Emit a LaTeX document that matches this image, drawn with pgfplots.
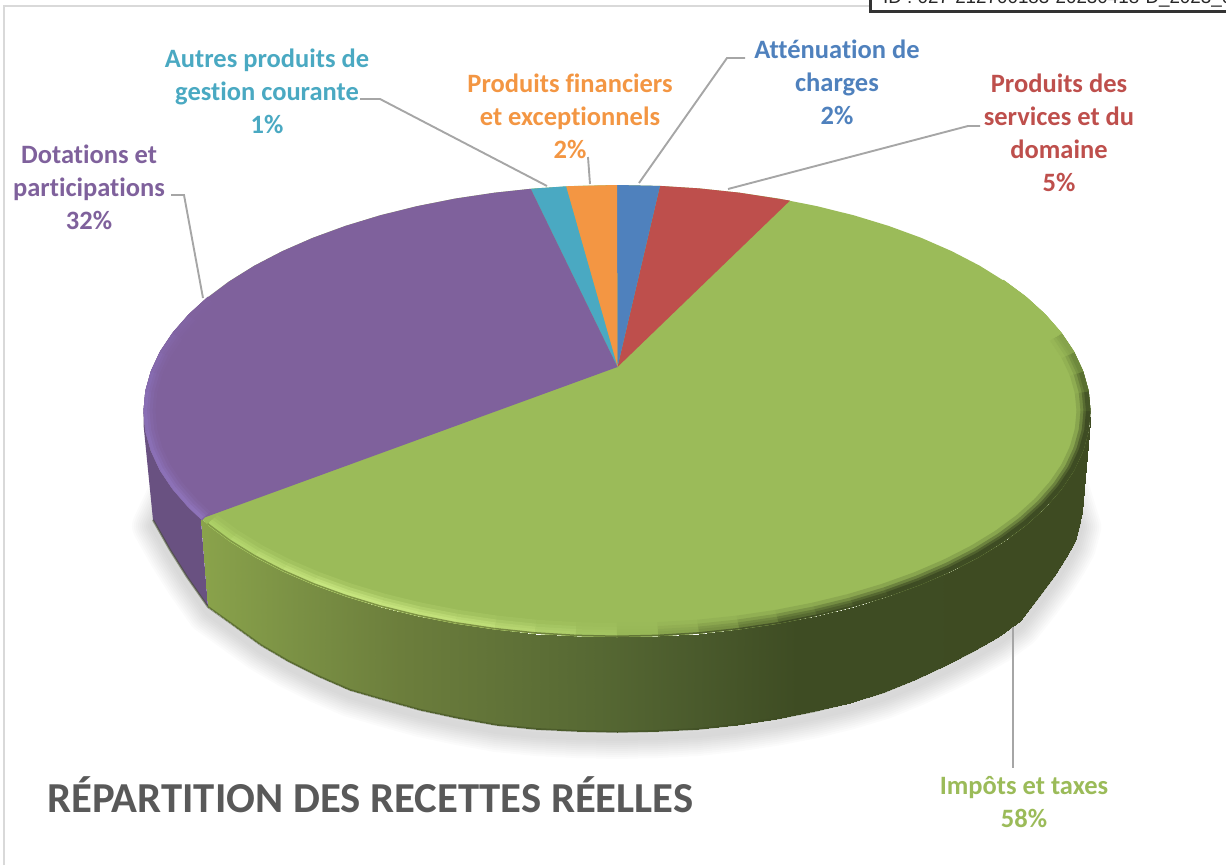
\documentclass[border=0pt]{standalone}
\usepackage{fontspec}
\setmainfont{Carlito}[Ligatures=NoCommon]
\newfontfamily\idfont{Liberation Sans}
\usepackage{pgfplots}
\usepackage{pgfplotstable}
\pgfplotsset{compat=1.18}

\definecolor{cblue}{HTML}{4F81BD}
\definecolor{cred}{HTML}{BE4F4C}
\definecolor{cgreen}{HTML}{9BBB59}
\definecolor{cpurple}{HTML}{7F619C}
\definecolor{cteal}{HTML}{4AA9C2}
\definecolor{corange}{HTML}{F39643}
\definecolor{lead}{HTML}{A6A6A6}
\definecolor{titlegray}{HTML}{595959}

% green rim stops
\definecolor{ga}{RGB}{170,205,100}
\definecolor{gb}{RGB}{200,230,128}
\definecolor{gc}{RGB}{192,222,120}
\definecolor{gd}{RGB}{172,205,105}
\definecolor{ge}{RGB}{155,187,89}
\definecolor{gi}{RGB}{125,150,70}
\definecolor{gf}{RGB}{90,110,50}
\definecolor{gg}{RGB}{62,76,35}
\definecolor{gh}{RGB}{100,125,55}
% purple rim stops
\definecolor{pa}{RGB}{135,108,178}
\definecolor{pb}{RGB}{142,115,185}

\newcommand{\gmap}[2]{\pgfplotsset{colormap={#1}{
  color(208pt)=(ga!#2!cgreen) color(232pt)=(gb!#2!cgreen) color(250pt)=(gc!#2!cgreen)
  color(262pt)=(gd!#2!cgreen) color(270pt)=(ge!#2!cgreen) color(280pt)=(gi!#2!cgreen)
  color(290pt)=(gf!#2!cgreen) color(305pt)=(gg!#2!cgreen) color(360pt)=(gg!#2!cgreen)
  color(370pt)=(gh!#2!cgreen) color(382pt)=(cgreen) color(395pt)=(cgreen)}}}
\newcommand{\pmap}[2]{\pgfplotsset{colormap={#1}{
  color(150pt)=(cpurple) color(175pt)=(pa!#2!cpurple) color(209pt)=(pb!#2!cpurple)}}}
\gmap{gA}{20}\gmap{gB}{50}\gmap{gC}{80}\gmap{gD}{100}
\pmap{pA}{15}\pmap{pB}{40}\pmap{pC}{70}\pmap{pD}{100}
\pgfplotsset{colormap={gO}{
  rgb255(208pt)=(130,155,70) rgb255(250pt)=(125,145,68) rgb255(270pt)=(100,120,55)
  rgb255(290pt)=(62,76,35) rgb255(360pt)=(62,76,35) rgb255(370pt)=(100,125,55)
  rgb255(382pt)=(155,187,89) rgb255(395pt)=(155,187,89)}}
\pgfplotsset{colormap={gside}{
  rgb255(200pt)=(138,163,75) rgb255(300pt)=(122,144,68) rgb255(400pt)=(108,126,60)
  rgb255(500pt)=(97,115,56) rgb255(600pt)=(86,104,51) rgb255(700pt)=(74,90,44)
  rgb255(800pt)=(62,76,35) rgb255(1095pt)=(62,75,34)}}

% top rim, full turn
\pgfplotstableread{
x y
1090.5 411
1088.7 391.3
1083.3 371.8
1074.4 352.5
1061.9 333.7
1046.1 315.5
1027.1 298
1004.9 281.4
979.7 265.7
951.8 251.2
921.4 237.9
888.6 225.9
853.8 215.3
817.1 206.2
778.9 198.6
739.5 192.7
699.2 188.4
658.3 185.9
617 185
575.7 185.9
534.8 188.4
494.5 192.7
455.1 198.6
416.9 206.2
380.2 215.3
345.4 225.9
312.6 237.9
282.2 251.2
254.3 265.7
229.1 281.4
206.9 298
187.9 315.5
172.1 333.7
159.6 352.5
150.7 371.8
145.3 391.3
143.5 411
145.3 430.7
150.7 450.2
159.6 469.5
172.1 488.3
187.9 506.5
206.9 524
229.1 540.6
254.3 556.3
282.2 570.8
312.6 584.1
345.4 596.1
380.2 606.7
416.9 615.8
455.1 623.4
494.5 629.3
534.8 633.6
575.7 636.1
617 637
658.3 636.1
699.2 633.6
739.5 629.3
778.9 623.4
817.1 615.8
853.8 606.7
888.6 596.1
921.4 584.1
951.8 570.8
979.7 556.3
1004.9 540.6
1027.1 524
1046.1 506.5
1061.9 488.3
1074.4 469.5
1083.3 450.2
1088.7 430.7
1090.5 411
}\rimtop

% rim arc of the green slice, t in degrees
\pgfplotstableread{
t x y
210 206.9 524
215 229.1 540.6
220 254.3 556.3
225 282.2 570.8
230 312.6 584.1
235 345.4 596.1
240 380.2 606.7
245 416.9 615.8
250 455.1 623.4
255 494.5 629.3
260 534.8 633.6
265 575.7 636.1
270 617 637
275 658.3 636.1
280 699.2 633.6
285 739.5 629.3
290 778.9 623.4
295 817.1 615.8
300 853.8 606.7
305 888.6 596.1
310 921.4 584.1
315 951.8 570.8
320 979.7 556.3
325 1004.9 540.6
330 1027.1 524
335 1046.1 506.5
340 1061.9 488.3
345 1074.4 469.5
350 1083.3 450.2
355 1088.7 430.7
360 1090.5 411
365 1088.7 391.3
370 1083.3 371.8
375 1074.4 352.5
380 1061.9 333.7
385 1046.1 315.5
390 1027.1 298
395 1004.9 281.4
}\rimgreen

% rim arc of the purple slice
\pgfplotstableread{
t x y
150 206.9 298
155 187.9 315.5
160 172.1 333.7
165 159.6 352.5
170 150.7 371.8
175 145.3 391.3
180 143.5 411
185 145.3 430.7
190 150.7 450.2
195 159.6 469.5
200 172.1 488.3
205 187.9 506.5
208.5 200.9 518.8
}\rimpurple

% green wall: top point, bottom point for each step
\pgfplotstableread{
x y
200.9 518.8
208 607
206.9 524
214.3 611
229.1 540.6
236 627
254.3 556.3
260.8 645
282.2 570.8
288.2 661
312.6 584.1
318.1 676
345.4 596.1
350.3 690
380.2 606.7
384.5 700
416.9 615.8
420.5 710
455.1 623.4
458 718
494.5 629.3
496.7 725
534.8 633.6
536.3 729
575.7 636.1
576.5 731
617 637
617 732
658.3 636.1
657.5 731
699.2 633.6
697.7 729
739.5 629.3
737.3 724.5
778.9 623.4
776 718.7
817.1 615.8
813.5 711.4
853.8 606.7
849.5 702.5
888.6 596.1
883.7 692.2
921.4 584.1
915.9 679
951.8 570.8
945.8 665
979.7 556.3
973.2 651
1004.9 540.6
997.7 637
1027.1 524
1019.7 621
1046.1 506.5
1038.4 597
1061.9 488.3
1054 576
1074.4 469.5
1066 557
1083.3 450.2
1074.9 541
1088.7 430.7
1080.2 521
1090.5 411
1082 512
}\wallgreen

% lower outline of the body
\pgfplotstableread{
x y
153 520
170 550
187 577
208 607
236 627
260.8 645
288.2 661
318.1 676
350.3 690
384.5 700
420.5 710
458 718
496.7 725
536.3 729
576.5 731
617 732
657.5 731
697.7 729
737.3 724.5
776 718.7
813.5 711.4
849.5 702.5
883.7 692.2
915.9 679
945.8 665
973.2 651
997.7 637
1019.7 621
1038.4 597
1054 576
1066 557
1074.9 541
1080.2 521
}\outline

% same line, its ends drawn in under the body, for the shadow
\pgfplotstableread{
x y
172 480
153 520
170 550
187 577
208 607
236 627
260.8 645
288.2 661
318.1 676
350.3 690
384.5 700
420.5 710
458 718
496.7 725
536.3 729
576.5 731
617 732
657.5 731
697.7 729
737.3 724.5
776 718.7
813.5 711.4
849.5 702.5
883.7 692.2
915.9 679
945.8 665
973.2 651
997.7 637
1019.7 621
1038.4 597
1054 576
1066 557
1074.9 541
1080.2 521
1060 455
}\shadowpath

\newcommand{\bevel}[3]{%
  \addplot[mesh, colormap name=#2, line width=#3pt, point meta=\thisrow{t},
    point meta rel=per plot]
    table[x expr={617+(\thisrow{x}-617)*(1-#3/2/473.5)},
          y expr={411+(\thisrow{y}-411)*(1-#3/2/226)}] {#1};}
\newcommand{\shadowline}[1]{%
  \addplot[draw=black, opacity=0.016, line width=#1pt, line cap=round, line join=round]
    table[y expr={\thisrow{y}+6}] {\shadowpath};}

\begin{document}
\begin{tikzpicture}
\begin{axis}[
  width=1226pt, height=865pt, scale only axis,
  xmin=0, xmax=1226, ymin=0, ymax=865, y dir=reverse,
  hide axis,
]
% frame of the chart
\addplot[draw=black!15, line width=1.5pt] coordinates {(4,865) (4,6) (870,6)};

% shadow
\shadowline{42}\shadowline{38}\shadowline{34}\shadowline{30}\shadowline{26}
\shadowline{22}\shadowline{18}\shadowline{14}\shadowline{10}\shadowline{6}

% walls
\addplot[fill=cpurple!83!black, draw=none] coordinates {
  (143.5,411) (145.3,430.7) (150.7,450.2) (159.6,469.5) (172.1,488.3) (187.9,506.5) (200.9,518.8)
  (208,607) (187,577) (170,550) (153,520) (143.5,425)} -- cycle;
\addplot[surf, shader=interp, mesh/cols=2, point meta=x, point meta rel=per plot,
  colormap name=gside] table {\wallgreen};
\addplot[draw=gg, opacity=0.5, line width=2pt] table {\outline};

% top: whole disk in green, the other slices over it
\addplot[fill=cgreen, draw=none] table {\rimtop} -- cycle;
\addplot[fill=cred, draw=none] coordinates {(617.5,367) (660,185.9) (699.2,188.4) (739.5,192.7) (790,200.6)} -- cycle;
\addplot[fill=cblue, draw=none] coordinates {(617.5,367) (617,185) (660,185.9)} -- cycle;
\addplot[fill=corange, draw=none] coordinates {(617.5,367) (566,186.3) (617,185)} -- cycle;
\addplot[fill=cteal, draw=none] coordinates {(617.5,367) (530.7,188.8) (566,186.3)} -- cycle;
\addplot[fill=cpurple, draw=none] coordinates {(617.5,367) (200.9,518.8) (187.9,506.5) (172.1,488.3)
  (159.6,469.5) (150.7,450.2) (145.3,430.7) (143.5,411) (145.3,391.3) (150.7,371.8) (159.6,352.5)
  (172.1,333.7) (187.9,315.5) (206.9,298) (229.1,281.4) (254.3,265.7) (282.2,251.2) (312.6,237.9)
  (345.4,225.9) (380.2,215.3) (416.9,206.2) (455.1,198.6) (494.5,192.7) (530.7,188.8)} -- cycle;

% bevel along the rim
\bevel{\rimpurple}{pA}{12}
\bevel{\rimpurple}{pB}{9}
\bevel{\rimpurple}{pC}{6}
\bevel{\rimpurple}{pD}{3.5}
\bevel{\rimgreen}{gA}{14}
\bevel{\rimgreen}{gB}{10}
\bevel{\rimgreen}{gC}{7}
\bevel{\rimgreen}{gD}{4.5}
\bevel{\rimgreen}{gO}{1.5}

% leader lines
\addplot[draw=lead, line width=1.9pt] coordinates {(745,58) (727,58) (639,183)};
\addplot[draw=lead, line width=1.9pt] coordinates {(980,126) (968,126) (728,189)};
\addplot[draw=lead, line width=1.9pt] coordinates {(588,157) (590,184)};
\addplot[draw=lead, line width=1.9pt] coordinates {(360,99) (380,99) (547,186)};
\addplot[draw=lead, line width=1.9pt] coordinates {(171,195) (184,195) (203,298)};
\addplot[draw=lead, line width=1.9pt] coordinates {(1013,627) (1013,768)};

% box cut off at the top right
\addplot[draw=black!80, line width=2.7pt] coordinates {(870.7,0) (870.7,11.3) (1226,11.3)};
\node[overlay, anchor=base west, inner sep=0pt, text=black!85, font=\idfont\fontsize{18.8}{20}\selectfont]
  at (axis cs:883,3.3) {ID : 027-212700183-20230418-D\_2023\_0};

% labels
\tikzset{lab/.style={align=center, inner sep=0pt, font=\fontsize{26.5}{33}\selectfont\bfseries}}
\node[lab, text=cblue] at (axis cs:837,82) {Atténuation de\\charges\\2\%};
\node[lab, text=cred] at (axis cs:1059,132.5) {Produits des\\services et du\\domaine\\5\%};
\node[lab, text=corange] at (axis cs:570,116) {Produits financiers\\et exceptionnels\\2\%};
\node[lab, text=cteal] at (axis cs:267,91) {Autres produits de\\gestion courante\\1\%};
\node[lab, text=cpurple] at (axis cs:89,187) {Dotations et\\participations\\32\%};
\node[lab, text=cgreen] at (axis cs:1024,802) {Impôts et taxes\\58\%};
\node[anchor=base west, inner sep=0pt, text=titlegray, font=\fontsize{42.7}{48}\selectfont\bfseries]
  at (axis cs:47,812) {RÉPARTITION DES RECETTES RÉELLES};
\end{axis}
\pgfresetboundingbox
\path[use as bounding box] (0,0) rectangle (1226pt,865pt);
\end{tikzpicture}
\end{document}
